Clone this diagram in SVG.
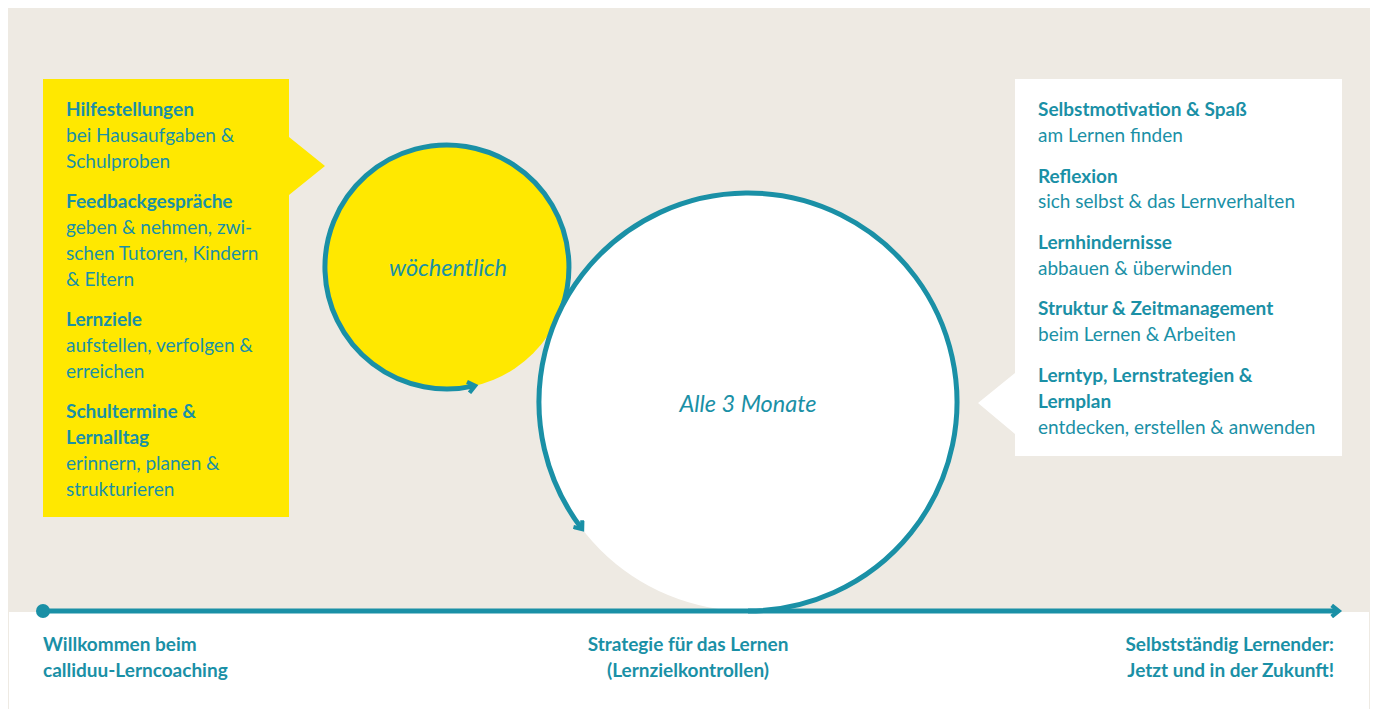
<svg xmlns="http://www.w3.org/2000/svg" width="1375" height="709" viewBox="0 0 1375 709">
  <style>
    .t { font-family: Lato, "Open Sans", "Liberation Sans", sans-serif; fill: #1a90a6; font-size: 19px; }
    .b { font-weight: 700; }
    .n { font-weight: 400; }
    .i { font-style: italic; font-size: 23.5px; }
    .line { fill: none; stroke: #1a90a6; stroke-width: 5; }
  </style>
  <defs>
    <marker id="chev" viewBox="0 0 10 10" refX="6" refY="5" markerWidth="14" markerHeight="14" markerUnits="userSpaceOnUse" orient="auto">
      <path d="M1.5,1 L6.5,5 L1.5,9" fill="none" stroke="#1a90a6" stroke-width="3"/>
    </marker>
  </defs>

  <rect x="0" y="0" width="1375" height="709" fill="#ffffff"/>
  <rect x="8" y="8" width="1362" height="604" fill="#eeeae3"/>
  <line x1="8.5" y1="612" x2="8.5" y2="709" stroke="#eeeae3" stroke-width="1"/>
  <line x1="1369.5" y1="612" x2="1369.5" y2="709" stroke="#eeeae3" stroke-width="1"/>

  <g id="box-left">
    <path d="M43,79 H289 V137 L325,166 L289,195 V517 H43 Z" fill="#ffe800"/>
    <text class="t b" x="66" y="116">Hilfestellungen</text>
    <text class="t n" x="66" y="142">bei Hausaufgaben &amp;</text>
    <text class="t n" x="66" y="168">Schulproben</text>
    <text class="t b" x="66" y="208">Feedbackgespräche</text>
    <text class="t n" x="66" y="234">geben &amp; nehmen, zwi-</text>
    <text class="t n" x="66" y="260">schen Tutoren, Kindern</text>
    <text class="t n" x="66" y="286">&amp; Eltern</text>
    <text class="t b" x="66" y="326">Lernziele</text>
    <text class="t n" x="66" y="352">aufstellen, verfolgen &amp;</text>
    <text class="t n" x="66" y="378">erreichen</text>
    <text class="t b" x="66" y="418">Schultermine &amp;</text>
    <text class="t b" x="66" y="444">Lernalltag</text>
    <text class="t n" x="66" y="470">erinnern, planen &amp;</text>
    <text class="t n" x="66" y="496">strukturieren</text>
  </g>

  <g id="box-right">
    <path d="M1015,79 H1342 V456 H1015 V434 L978,403 L1015,373 Z" fill="#ffffff"/>
    <text class="t b" x="1038" y="116">Selbstmotivation &amp; Spaß</text>
    <text class="t n" x="1038" y="142">am Lernen finden</text>
    <text class="t b" x="1038" y="183">Reflexion</text>
    <text class="t n" x="1038" y="208">sich selbst &amp; das Lernverhalten</text>
    <text class="t b" x="1038" y="249">Lernhindernisse</text>
    <text class="t n" x="1038" y="275">abbauen &amp; überwinden</text>
    <text class="t b" x="1038" y="315">Struktur &amp; Zeitmanagement</text>
    <text class="t n" x="1038" y="341">beim Lernen &amp; Arbeiten</text>
    <text class="t b" x="1038" y="382">Lerntyp, Lernstrategien &amp;</text>
    <text class="t b" x="1038" y="408">Lernplan</text>
    <text class="t n" x="1038" y="434">entdecken, erstellen &amp; anwenden</text>
  </g>

  <g id="circle-weekly">
    <circle cx="447" cy="267" r="122" fill="#ffe800"/>
    <path class="line" d="M561.6,308.7 A122,122 0 1 0 474.4,385.9" marker-end="url(#chev)"/>
    <text class="t i" x="448" y="276" text-anchor="middle">wöchentlich</text>
  </g>

  <g id="circle-quarterly">
    <circle cx="748" cy="402" r="209" fill="#ffffff"/>
    <path class="line" d="M748,611 A209,209 0 1 0 581.7,528.6" marker-end="url(#chev)"/>
    <text class="t i" x="748" y="412" text-anchor="middle">Alle 3 Monate</text>
  </g>

  <g id="connectors">
    <circle cx="43" cy="611" r="7" fill="#1a90a6"/>
    <line class="line" x1="43" y1="611" x2="1338" y2="611" marker-end="url(#chev)"/>
  </g>

  <g id="timeline-labels">
    <text class="t b" x="43" y="651">Willkommen beim</text>
    <text class="t b" x="43" y="677">calliduu-Lerncoaching</text>
    <text class="t b" x="688" y="651" text-anchor="middle">Strategie für das Lernen</text>
    <text class="t b" x="688" y="677" text-anchor="middle">(Lernzielkontrollen)</text>
    <text class="t b" x="1334" y="651" text-anchor="end">Selbstständig Lernender:</text>
    <text class="t b" x="1334" y="677" text-anchor="end">Jetzt und in der Zukunft!</text>
  </g>
</svg>
